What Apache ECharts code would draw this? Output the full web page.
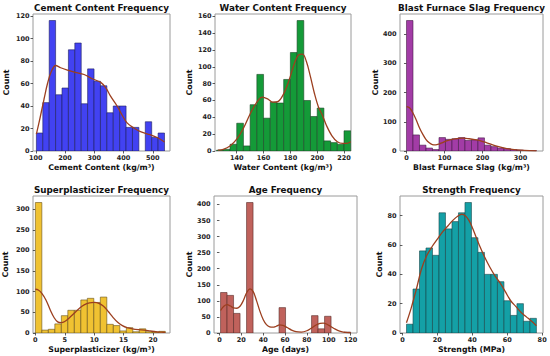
<!DOCTYPE html>
<html><head><meta charset="utf-8">
<script src="https://cdn.jsdelivr.net/npm/echarts@6/dist/echarts.min.js"></script>
<style>html,body{margin:0;padding:0;background:#fff}#c{width:550px;height:356px}</style>
</head><body><div id="c"></div>
<script>
// ---- data ----
const titles = ["Cement Content Frequency","Water Content Frequency","Blast Furnace Slag Frequency","Superplasticizer Frequency","Age Frequency","Strength Frequency"];
const xNames = ["Cement Content (kg/m³)","Water Content (kg/m³)","Blast Furnace Slag (kg/m³)","Superplasticizer (kg/m³)","Age (days)","Strength (MPa)"];

const cementEdges = [102,123.9,145.8,167.7,189.6,211.5,233.4,255.3,277.2,299.1,321,342.9,364.8,386.7,408.6,430.5,452.4,474.3,496.2,518.1,540];
const cementCounts = [16,43,116,50,56,90,96,42,73,62,58,34,40,40,21,21,0,26,12,16];
const cementKde = [[102,15],[115,30],[128,46],[140,60],[152,70],[168,76],[185,74],[208,72],[235,70],[265,68],[295,64],[322,61],[340,56],[355,49],[378,40],[395,32],[412,25],[435,20.5],[460,17],[491,14.5],[515,12],[540,8]];
const cementXTicks = [100,200,300,400,500];
const cementYTicks = [0,20,40,60,80,100,120];

const waterEdges = [125,130,135,140,145,150,155,160,165,170,175,180,185,190,195,200,205,210,215,220,225];
const waterCounts = [1,2,8,33,6,55,91,39,58,57,85,117,155,60,41,51,12,10,8,24];
const waterKde = [[126,1],[130,2],[135,6],[140,14],[145,27],[150,44],[155,58],[159,64],[163,62],[167,58],[171,59],[175,68],[179,84],[183,104],[186,114],[189,115],[192,106],[195,88],[198,68],[201,52],[204,42],[207,30],[211,18],[215,11],[219,9],[222,9],[225,11]];
const waterXTicks = [140,160,180,200,220];
const waterYTicks = [0,20,40,60,80,100,120,140,160];

const slagEdges = [0,17.1,34.2,51.3,68.4,85.5,102.6,119.7,136.8,153.9,171,188.1,205.2,222.3,239.4,256.5,273.6,290.7,307.8,324.9,342];
const slagCounts = [447,55,20,10,5,46,40,42,46,36,38,45,20,15,10,8,5,3,1,1];
const slagKde = [[0,152],[8,148],[17,130],[26,105],[34,80],[43,57],[51,40],[60,28],[68,22],[77,21],[86,24],[95,29],[105,35],[120,40],[137,43],[150,44],[165,42],[180,39],[195,35],[210,29],[225,22],[240,16],[255,11],[270,7],[290,4],[310,2],[342,0.5]];
const slagXTicks = [0,100,200,300];
const slagYTicks = [0,100,200,300,400];

const superEdges = [0,1.105,2.21,3.315,4.42,5.525,6.63,7.735,8.84,9.945,11.05,12.155,13.26,14.365,15.47,16.575,17.68,18.785,19.89,20.995,22.1];
const superCounts = [316,7,9,22,42,55,55,80,84,74,87,21,18,5,13,3,10,3,2,4];
const superKde = [[0,106],[0.5,104],[1.1,96],[1.8,80],[2.5,57],[3.2,37],[3.8,27],[4.4,25],[5,28],[5.8,37],[6.6,48],[7.5,60],[8.3,68],[9.2,73],[10,74],[10.8,72],[11.6,65],[12.4,52],[13.2,38],[14,26],[14.8,18],[15.6,13],[16.5,10],[17.5,8],[18.5,7],[19.5,5],[20.5,3],[21.5,2],[22.1,1.5]];
const superXTicks = [0,5,10,15,20];
const superYTicks = [0,50,100,150,200,250,300];

const ageEdges = [1,6.95,12.9,18.85,24.8,30.75,36.7,42.65,48.6,54.55,60.5,66.45,72.4,78.35,84.3,90.25,96.2,102.15,108.1,114.05,120];
const ageCounts = [126,117,61,0,406,0,0,0,0,79,0,0,0,0,54,13,52,0,0,3];
const ageKde = [[1,70],[4,83],[7,88],[10,84],[13,78],[16,77],[19,84],[22,102],[25,126],[28,137],[31,128],[34,100],[37,68],[40,42],[43,26],[46,19],[49,18],[52,21],[55,25],[58,24],[62,17],[66,9],[70,4],[75,3],[80,7],[84,15],[88,24],[92,30],[95,31],[98,28],[102,20],[106,12],[110,6],[115,2],[120,0.5]];
const ageXTicks = [0,20,40,60,80,100,120];
const ageYTicks = [0,50,100,150,200,250,300,350,400];

const strengthEdges = [2.33,6.05,9.77,13.49,17.21,20.93,24.65,28.37,32.09,35.81,39.53,43.25,46.97,50.69,54.41,58.13,61.85,65.57,69.29,73.01,76.73];
const strengthCounts = [6,30,56,58,53,82,71,76,82,89,65,55,40,40,35,22,12,20,8,10];
const strengthKde = [[2.3,7],[5,17],[8,30],[11,44],[14,53],[17,59],[20,64],[23,69],[26,73],[29,77],[32,80],[34,81],[36,80],[38,77],[40,72],[42,66],[44,60],[47,52],[50,45],[53,39],[56,34],[59,28],[62,22],[65,18],[68,14],[71,11],[74,8],[76.7,5]];
const strengthXTicks = [0,20,40,60,80];
const strengthYTicks = [0,20,40,60,80];

// ---- layout / style ----
const FONT = "DejaVu Sans";
const panels = [
  {edges:cementEdges,counts:cementCounts,kde:cementKde,xt:cementXTicks,yt:cementYTicks,xmin:90.4,xmax:558.8,ymax:121.8,g:[33,14,137,137],fill:'#4242f2',edge:'#1e1e5e',yGap:23},
  {edges:waterEdges,counts:waterCounts,kde:waterKde,xt:waterXTicks,yt:waterYTicks,xmin:123.8,xmax:225.2,ymax:162.75,g:[215,14,136,137],fill:'#149a38',edge:'#1c4626',yGap:22},
  {edges:slagEdges,counts:slagCounts,kde:slagKde,xt:slagXTicks,yt:slagYTicks,xmin:-17.1,xmax:359.2,ymax:469.35,g:[400,14,143,137],fill:'#a23ca6',edge:'#481c4a',yGap:19},
  {edges:superEdges,counts:superCounts,kde:superKde,xt:superXTicks,yt:superYTicks,xmin:-0.4,xmax:22.9,ymax:331.8,g:[33,196,137,137],fill:'#f0c232',edge:'#66501a',yGap:24},
  {edges:ageEdges,counts:ageCounts,kde:ageKde,xt:ageXTicks,yt:ageYTicks,xmin:-5,xmax:125.9,ymax:426.3,g:[214,196,143,137],fill:'#c0625c',edge:'#582c28',yGap:19},
  {edges:strengthEdges,counts:strengthCounts,kde:strengthKde,xt:strengthXTicks,yt:strengthYTicks,xmin:-1.4,xmax:80.5,ymax:93.45,g:[400,196,143,137],fill:'#14a0a6',edge:'#1a484c',yGap:16}
];

const grid=[],xAxis=[],yAxis=[],series=[],graphic=[];
panels.forEach((p,i)=>{
  const [l,t,w,h]=p.g;
  grid.push({left:l,top:t,width:w,height:h,show:true,borderColor:'#9a9a9a',borderWidth:1,backgroundColor:'transparent'});
  const lbl={fontFamily:FONT,fontWeight:'bold',fontSize:6.5,color:'#222'};
  xAxis.push({type:'value',gridIndex:i,min:p.xmin,max:p.xmax,splitLine:{show:false},
    axisLine:{show:false},
    axisTick:{show:true,length:2.5,lineStyle:{color:'#333',width:0.8},customValues:p.xt},
    axisLabel:Object.assign({margin:3.5,customValues:p.xt},lbl),
    name:xNames[i],nameLocation:'middle',nameGap:12,
    nameTextStyle:{fontFamily:FONT,fontWeight:'bold',fontSize:7.8,color:'#111'}});
  yAxis.push({type:'value',gridIndex:i,min:0,max:p.ymax,splitLine:{show:false},
    axisLine:{show:false},
    axisTick:{show:true,length:2.5,lineStyle:{color:'#333',width:0.8},customValues:p.yt},
    axisLabel:Object.assign({margin:3.5,customValues:p.yt},lbl),
    name:'Count',nameLocation:'middle',nameGap:p.yGap,nameRotate:90,
    nameTextStyle:{fontFamily:FONT,fontWeight:'bold',fontSize:7.8,color:'#111'}});
  const bins=[];
  for(let k=0;k<p.counts.length;k++){ if(p.counts[k]>0) bins.push([p.edges[k],p.edges[k+1],p.counts[k]]); }
  const fill=p.fill, edge=p.edge;
  series.push({type:'custom',xAxisIndex:i,yAxisIndex:i,clip:true,data:bins,
    renderItem:(params,api)=>{
      const a=api.coord([api.value(0),api.value(2)]);
      const b=api.coord([api.value(1),0]);
      return {type:'rect',shape:{x:a[0],y:a[1],width:b[0]-a[0],height:b[1]-a[1]},
        style:{fill:fill,stroke:edge,lineWidth:0.6}};
    }});
  series.push({type:'line',xAxisIndex:i,yAxisIndex:i,data:p.kde,smooth:0.35,showSymbol:false,
    lineStyle:{color:'#9c3f1f',width:1.3},z:5});
  graphic.push({type:'text',x:l+w/2,y:t-6,style:{text:titles[i],fontFamily:FONT,fontWeight:'bold',fontSize:8.8,fill:'#111',textAlign:'center',textVerticalAlign:'middle'}});
});

const chart=echarts.init(document.getElementById('c'),null,{renderer:'svg'});
chart.setOption({animation:false,backgroundColor:'#fff',grid,xAxis,yAxis,series,graphic});
</script></body></html>
